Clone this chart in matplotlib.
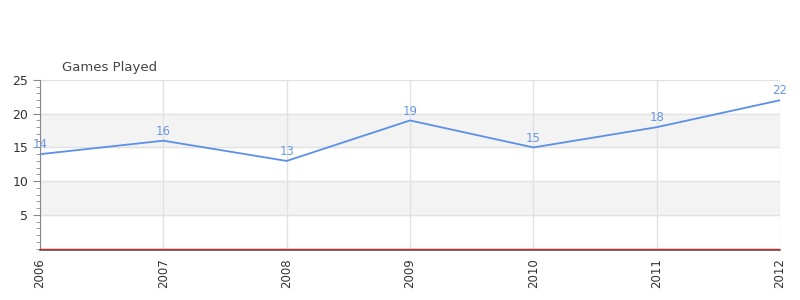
import matplotlib.pyplot as plt
from matplotlib.ticker import MultipleLocator

years = ["2006", "2007", "2008", "2009", "2010", "2011", "2012"]
games = [14, 16, 13, 19, 15, 18, 22]

fig = plt.figure(figsize=(8, 3), dpi=100)
ax = fig.add_axes([0.05, 0.1667, 0.925, 0.5667])

x = range(len(years))
ax.set_xlim(0, len(years) - 1)
ax.set_ylim(-0.2, 25)

# alternating bands
for lo in (5, 15):
    ax.axhspan(lo, lo + 5, color="#f3f3f3", zorder=0)

ax.yaxis.set_minor_locator(MultipleLocator(1))
ax.set_yticks([5, 10, 15, 20, 25])
ax.grid(True, color="#e2e2e2", linewidth=1, zorder=1)
ax.set_axisbelow(True)

ax.plot(x, games, color="#5b8fe8", linewidth=1.3, zorder=3)
for xi, v in zip(x, games):
    ax.annotate(str(v), (xi, v), xytext=(0, 2), textcoords="offset points",
                ha="center", va="bottom", fontsize=8.5, color="#6a98e0")

ax.axhline(0, color="#dd2222", linewidth=1.0, zorder=4)

ax.set_xticks(list(x))
ax.set_xticklabels(years, rotation=90, fontsize=8.5, color="#333333")
ax.tick_params(axis="y", labelsize=9, colors="#333333", length=5, color="#888888")
ax.tick_params(axis="y", which="minor", length=3, color="#888888")
ax.tick_params(axis="x", length=0, pad=6)

for s in ("top", "right"):
    ax.spines[s].set_visible(False)
ax.spines["left"].set_color("#888888")
ax.spines["bottom"].set_color("#555555")
ax.spines["bottom"].set_linewidth(1.2)

fig.text(0.0775, 0.762, "Games Played", fontsize=9.5, color="#444444")

fig.savefig("out.png")
